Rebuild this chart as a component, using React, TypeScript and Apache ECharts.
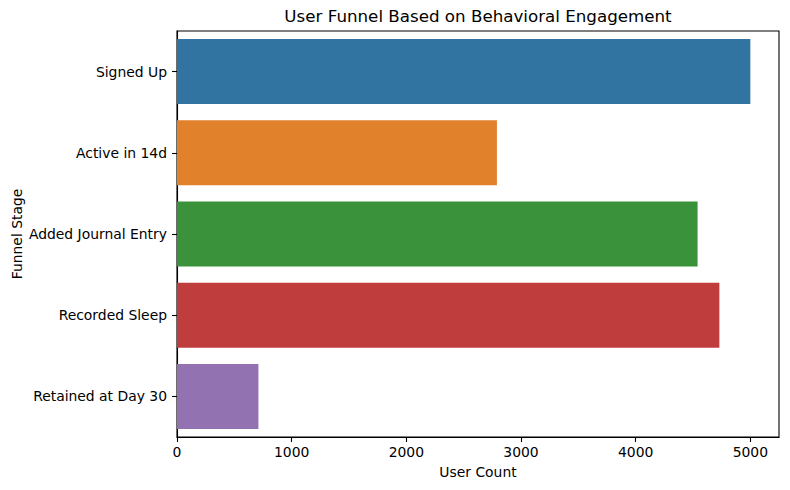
import React, { useEffect, useRef } from "react";
import * as echarts from "echarts";

const categories = ["Signed Up", "Active in 14d", "Added Journal Entry", "Recorded Sleep", "Retained at Day 30"];
const userCounts = [5000, 2790, 4540, 4730, 710];
const barColors = ["#3274a1", "#e1812c", "#3a923a", "#c03d3e", "#9372b2"];
const xTicks = [0, 1000, 2000, 3000, 4000, 5000];

const FONT = "DejaVu Sans";

export default function App() {
  const ref = useRef<HTMLDivElement>(null);
  useEffect(() => {
    if (!ref.current) return;
    const chart = echarts.init(ref.current, null, { renderer: "svg" });
    const gridLeft = 177;
    const gridRight = 11;
    const gridTop = 31;
    const gridBottom = 53;
    const plotCenterX = gridLeft + (790 - gridLeft - gridRight) / 2;
    const plotCenterY = gridTop + (490 - gridTop - gridBottom) / 2;
    chart.setOption({
      animation: false,
      backgroundColor: "#ffffff",
      grid: {
        left: gridLeft,
        right: gridRight,
        top: gridTop,
        bottom: gridBottom,
        show: true,
        borderColor: "#000000",
        borderWidth: 1.1,
        backgroundColor: "transparent",
      },
      xAxis: {
        type: "value",
        min: 0,
        max: 5250,
        interval: 1000,
        axisLine: { show: true, lineStyle: { color: "#000", width: 1.1 } },
        axisTick: { show: true, inside: false, length: 5, lineStyle: { color: "#000", width: 1.1 } },
        axisLabel: {
          showMaxLabel: false,
          color: "#000",
          fontFamily: FONT,
          fontSize: 13.9,
          margin: 8,
          formatter: (v: number) => (xTicks.includes(v) ? String(v) : ""),
        },
        splitLine: { show: false },
      },
      yAxis: {
        type: "category",
        data: categories,
        inverse: true,
        axisLine: { show: true, lineStyle: { color: "#000", width: 1.1 } },
        axisTick: { show: true, alignWithLabel: true, length: 5, lineStyle: { color: "#000", width: 1.1 } },
        axisLabel: { color: "#000", fontFamily: FONT, fontSize: 13.9, margin: 10 },
        splitLine: { show: false },
      },
      series: [
        {
          type: "bar",
          data: userCounts.map((v, i) => ({ value: v, itemStyle: { color: barColors[i] } })),
          barCategoryGap: "20%",
        },
      ],
      graphic: [
        {
          type: "text",
          x: plotCenterX,
          y: 16,
          style: {
            text: "User Funnel Based on Behavioral Engagement",
            fontFamily: FONT,
            fontSize: 16.7,
            fill: "#000",
            textAlign: "center",
            textVerticalAlign: "middle",
          },
        },
        {
          type: "text",
          x: plotCenterX,
          y: 472,
          style: {
            text: "User Count",
            fontFamily: FONT,
            fontSize: 13.9,
            fill: "#000",
            textAlign: "center",
            textVerticalAlign: "middle",
          },
        },
        {
          type: "text",
          x: 17,
          y: plotCenterY,
          rotation: Math.PI / 2,
          style: {
            text: "Funnel Stage",
            fontFamily: FONT,
            fontSize: 13.9,
            fill: "#000",
            textAlign: "center",
            textVerticalAlign: "middle",
          },
        },
      ],
    });
    return () => chart.dispose();
  }, []);
  return <div ref={ref} style={{ width: 790, height: 490, position: "absolute", left: 0, top: 0 }} />;
}
